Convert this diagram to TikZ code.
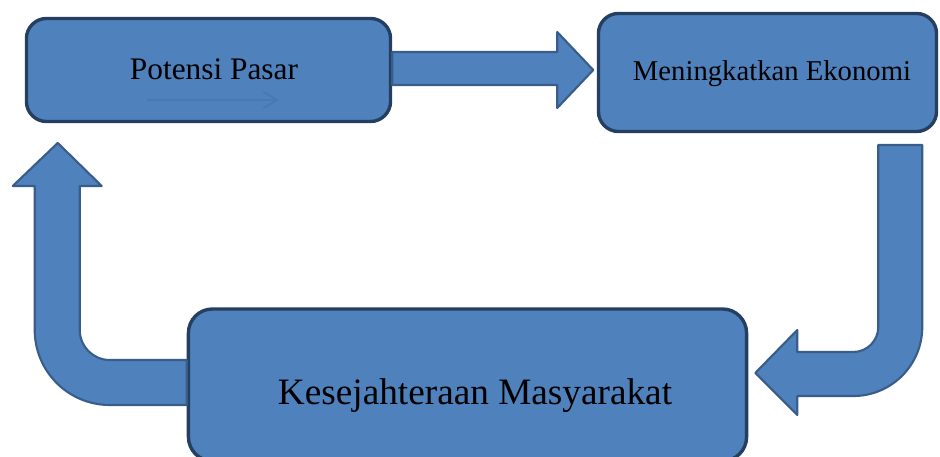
\documentclass[tikz,border=0pt]{standalone}
\usepackage{fontspec}
\setmainfont{Liberation Serif}
\usetikzlibrary{calc,arrows.meta}
\definecolor{boxfill}{HTML}{4F81BD}
\definecolor{boxline}{HTML}{243F60}
\definecolor{arrowline}{HTML}{385D8A}
\definecolor{faintline}{HTML}{4878B5}

\begin{document}
\begin{tikzpicture}[x=0.025cm, y=-0.025cm,
  box/.style={rectangle, rounded corners=0.5cm, fill=boxfill, draw=boxline, line width=2.4pt, inner sep=0pt},
  bigarrow/.style={fill=boxfill, draw=arrowline, line width=1.5pt, line join=round},
  lbl/.style={anchor=base, inner sep=0pt}]
\useasboundingbox (0,0) rectangle (940,457);

\node[box, minimum width=9.1cm, minimum height=2.575cm] (pasar) at (208.5,70) {};
\node[box, minimum width=8.45cm, minimum height=2.95cm] (ekonomi) at (767.5,72.5) {};
\node[box, rounded corners=0.6cm, minimum width=13.95cm, minimum height=3.8cm] (sejahtera) at (467.5,385) {};

\node[lbl, font=\fontsize{22.3}{26}\selectfont] (pasarText) at ($(pasar.center)+(5.5,10)$) {Potensi Pasar};
\node[lbl, font=\fontsize{20.4}{24}\selectfont] (ekonomiText) at ($(ekonomi.center)+(4.5,8.5)$) {Meningkatkan Ekonomi};
\node[lbl, font=\fontsize{26.5}{31}\selectfont] (sejahteraText) at ($(sejahtera.center)+(7.5,20)$) {Kesejahteraan Masyarakat};

\draw[faintline, line width=1.2pt, -{Straight Barb[length=0.35cm, width=0.4cm]}] ($(pasar.center)+(-61.5,30)$) -- ($(pasar.center)+(70.5,30)$);

\draw[bigarrow, shift={(pasar.east)}] (0,-18) -- (165,-18) -- (165,-38) -- (201,0) -- (165,38) -- (165,15) -- (0,15) -- cycle;

\draw[bigarrow, shift={(sejahtera.east)}] (7,-12) -- (49,-55) -- (49,-33) -- (105,-33)
  arc[start angle=-90, end angle=0, radius=0.625cm] -- (130,-240) -- (174,-240) -- (174,-58)
  arc[start angle=0, end angle=-90, radius=1.725cm] -- (49,11) -- (49,30) -- cycle;

\draw[bigarrow, shift={(sejahtera.west)}] (0,20) -- (-77,20)
  arc[start angle=-90, end angle=-180, radius=1.875cm] -- (-152,-199) -- (-174,-199) -- (-129,-242)
  -- (-85,-199) -- (-107,-199) -- (-107,-55)
  arc[start angle=180, end angle=270, radius=0.75cm] -- (0,-25) -- cycle;
\end{tikzpicture}
\end{document}
